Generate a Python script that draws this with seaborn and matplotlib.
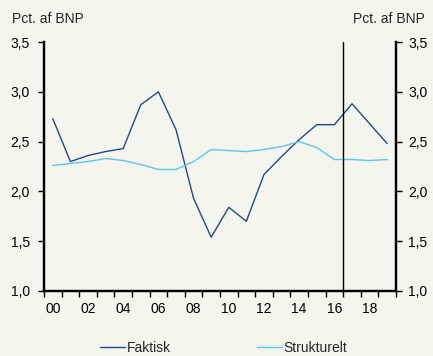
import matplotlib
matplotlib.use("Agg")
import matplotlib.pyplot as plt
import seaborn as sns
import pandas as pd
import numpy as np

# Offentlige investeringer, faktisk og strukturelt niveau
years = list(range(2000, 2020))
faktisk = [2.73, 2.30, 2.36, 2.40, 2.43, 2.87, 3.00, 2.62, 1.93, 1.54,
           1.84, 1.70, 2.17, 2.35, 2.52, 2.67, 2.67, 2.88, 2.68, 2.48]
strukturelt = [2.26, 2.28, 2.30, 2.33, 2.31, 2.27, 2.22, 2.22, 2.30, 2.42,
               2.41, 2.40, 2.42, 2.45, 2.50, 2.44, 2.32, 2.32, 2.31, 2.32]
tick_labels = ["00", "02", "04", "06", "08", "10", "12", "14", "16", "18"]
y_ticks = [1.0, 1.5, 2.0, 2.5, 3.0, 3.5]
forecast_start = 2016.5

bg = "#F5F5EE"
c_fakt = "#1F4A8C"
c_strukt = "#5CC6EE"
fs = 10

sns.set_theme(style="white")
plt.rcParams["font.family"] = ["Liberation Sans", "DejaVu Sans"]
plt.rcParams["font.size"] = fs

df = pd.DataFrame({"År": years * 2,
                   "Værdi": faktisk + strukturelt,
                   "Serie": ["Faktisk"] * len(years) + ["Strukturelt"] * len(years)})

fig = plt.figure(figsize=(4.33, 3.56), dpi=100, facecolor=bg)
ax = fig.add_axes([0.1016, 0.1826, 0.8129, 0.6994], facecolor=bg)

sns.lineplot(data=df, x="År", y="Værdi", hue="Serie",
             palette={"Faktisk": c_fakt, "Strukturelt": c_strukt},
             linewidth=1.0, ax=ax, legend=True)

ax.axvline(forecast_start, color="black", linewidth=1.0)

ax.set_xlim(years[0] - 0.5, years[-1] + 0.5)
ax.set_ylim(1.0, 3.5)
ax.set_xlabel("")
ax.set_ylabel("")

# Årstal midt i hvert interval, tickmærker på grænserne
ax.set_xticks(np.arange(years[0] - 0.5, years[-1] + 1.0, 1.0))
ax.set_xticklabels([])
ax.set_xticks(years[::2], minor=True)
ax.set_xticklabels(tick_labels, minor=True)
ax.tick_params(axis="x", which="major", direction="out", length=4, width=1.0,
               color="black", bottom=True)
ax.tick_params(axis="x", which="minor", length=0, pad=8, labelsize=fs,
               labelcolor="black")

ax.set_yticks(y_ticks)
ax.set_yticklabels([f"{v:.1f}".replace(".", ",") for v in y_ticks])
ax.tick_params(axis="y", direction="out", length=4, width=1.0, color="black",
               left=True, labelsize=fs, labelcolor="black", pad=6)

ax2 = ax.twinx()
ax2.set_ylim(ax.get_ylim())
ax2.set_yticks(y_ticks)
ax2.set_yticklabels([f"{v:.1f}".replace(".", ",") for v in y_ticks])
ax2.tick_params(axis="y", direction="out", length=4, width=1.0, color="black",
                right=True, labelsize=fs, labelcolor="black", pad=5)
ax2.grid(False)
ax.grid(False)

for a in (ax, ax2):
    a.spines["top"].set_visible(False)
    for s in ("left", "right", "bottom"):
        a.spines[s].set_color("black")
        a.spines[s].set_linewidth(1.6)

fig.text(0.028, 0.948, "Pct. af BNP", ha="left", va="center", fontsize=fs)
fig.text(0.982, 0.948, "Pct. af BNP", ha="right", va="center", fontsize=fs)

handles, labels = ax.get_legend_handles_labels()
ax.get_legend().remove()
fig.legend(handles, labels, loc="center", bbox_to_anchor=(0.516, 0.022),
           ncol=2, frameon=False, fontsize=fs, handlelength=1.8,
           handletextpad=0.1, columnspacing=6.2)

fig.savefig("out.png", dpi=100, facecolor=bg)
